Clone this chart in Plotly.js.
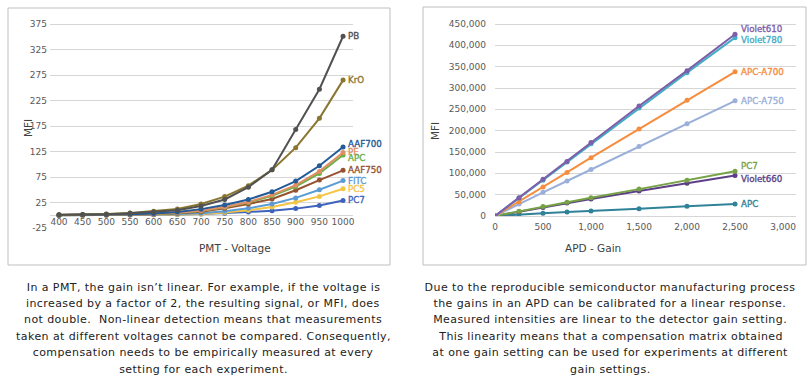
<!DOCTYPE html>
<html>
<head>
<meta charset="utf-8">
<script src="https://cdn.plot.ly/plotly-3.0.1.min.js"></script>
<style>
html,body{margin:0;padding:0;background:#fff;}
#chart{width:812px;height:377px;}
</style>
<style id="capstyle"></style>
</head>
<body>
<div id="chart"></div>
<script>
// ---------- Left chart: PMT ----------
const pmtVoltage = [400, 450, 500, 550, 600, 650, 700, 750, 800, 850, 900, 950, 1000];
const pmtNames = ["PB", "KrO", "AAF700", "PE", "APC", "AAF750", "FITC", "PC5", "PC7"];
const pmtPB     = [1, 1.5, 2, 4, 6.5, 10, 18, 31, 55, 89, 168, 247, 351];
const pmtKrO    = [0.7, 1.3, 2.6, 4.6, 8, 12.4, 22, 36.6, 58, 89, 132.6, 190, 265];
const pmtAAF700 = [0.5, 0.8, 1.3, 2, 3.3, 6.5, 12, 20, 31, 46, 67, 97, 134];
const pmtPE     = [0.3, 0.5, 0.9, 1.5, 2.6, 5, 9, 16, 26, 40, 59, 86, 123];
const pmtAPC    = [0.3, 0.5, 0.8, 1.4, 2.4, 4.6, 8.5, 15.7, 25, 38, 56, 82, 118];
const pmtAAF750 = [0.3, 0.4, 0.7, 1.2, 2, 4, 7, 13.7, 22, 32, 49, 69, 88];
const pmtFITC   = [0.2, 0.3, 0.5, 0.8, 1.3, 2.3, 4, 7.8, 13.7, 22, 34, 50, 68];
const pmtPC5    = [0.1, 0.2, 0.3, 0.5, 0.9, 1.5, 2.6, 5.2, 9.8, 16.3, 25.5, 37, 52];
const pmtPC7    = [0.1, 0.2, 0.3, 0.5, 0.8, 1.4, 2.6, 4, 6.5, 9, 13, 19, 29];
const pmtYTickVals = [-25, 25, 75, 125, 175, 225, 275, 325, 375];
const pmtYTickText = ["-25", "25", "75", "125", "175", "225", "275", "325", "375"];

// ---------- Right chart: APD ----------
const apdGain = [0, 250, 500, 750, 1000, 1500, 2000, 2500];
const apdNames = ["Violet610", "Violet780", "APC-A700", "APC-A750", "PC7", "Violet660", "APC"];
const apdViolet610 = [0, 43000, 86000, 128000, 172000, 258000, 340600, 426000];
const apdViolet780 = [0, 42000, 84000, 126500, 169500, 253000, 336000, 418000];
const apdAPCA700   = [0, 33600, 68000, 102000, 136700, 204000, 271000, 338000];
const apdAPCA750   = [0, 28000, 55500, 82000, 109000, 163000, 216000, 270000];
const apdPC7       = [0, 11000, 22000, 32000, 43000, 63000, 84000, 104700];
const apdViolet660 = [0, 10000, 20000, 30500, 40000, 58600, 77000, 95000];
const apdAPC       = [0, 3900, 6200, 9400, 11700, 17000, 22700, 28000];
const apdXTicks = [0, 500, 1000, 1500, 2000, 2500, 3000];

const leftCaption = [
  "In a PMT, the gain isn\u2019t linear. For example, if the voltage is",
  "increased by a factor of 2, the resulting signal, or MFI, does",
  "not double.  Non-linear detection means that measurements",
  "taken at different voltages cannot be compared. Consequently,",
  "compensation needs to be empirically measured at every",
  "setting for each experiment."
];
const rightCaption = [
  "Due to the reproducible semiconductor manufacturing process",
  "the gains in an APD can be calibrated for a linear response.",
  "Measured intensities are linear to the detector gain setting.",
  "This linearity means that a compensation matrix obtained",
  "at one gain setting can be used for experiments at different",
  "gain settings."
];

// ---------- styling ----------
const W = 812, H = 377;
const px = v => v / W;
const py = v => 1 - v / H;
const FONT = "DejaVu Sans";

const pmtSeries = [pmtPB, pmtKrO, pmtAAF700, pmtPE, pmtAPC, pmtAAF750, pmtFITC, pmtPC5, pmtPC7];
const pmtColors = ["#515151", "#8a7630", "#235a97", "#e08e62", "#6aae46", "#96522f", "#5b9bd5", "#f4c542", "#3e63bd"];
const pmtLabelShift = [0, 0, 3, 1, -3, 0, 0, 0, 0];

const apdSeries = [apdViolet610, apdViolet780, apdAPCA700, apdAPCA750, apdPC7, apdViolet660, apdAPC];
const apdColors = ["#7d5ea8", "#45adc6", "#f68d3e", "#9aafd9", "#76a245", "#5d3f87", "#2f8298"];
const apdLabelShift = [5, -2, 0, 0, 5, -4, 0];

const traces = [];
const annotations = [];
let css = "";

for (let i = pmtSeries.length - 1; i >= 0; i--) {
  traces.push({
    x: pmtVoltage, y: pmtSeries[i], name: pmtNames[i],
    type: "scatter", mode: "lines+markers", xaxis: "x", yaxis: "y",
    line: {color: pmtColors[i], width: 2},
    marker: {color: pmtColors[i], size: 5},
    hoverinfo: "skip"
  });
}
pmtSeries.forEach((s, i) => {
  css += `g.annotation[data-index="${annotations.length}"] text{stroke:${pmtColors[i]};stroke-width:0.35px;}\n`;
  annotations.push({
    xref: "x", yref: "y", x: pmtVoltage[pmtVoltage.length - 1], y: s[s.length - 1],
    text: pmtNames[i], showarrow: false, xanchor: "left", xshift: 3, yshift: pmtLabelShift[i],
    font: {family: FONT, size: 8.7, color: pmtColors[i]}
  });
});

for (let i = apdSeries.length - 1; i >= 0; i--) {
  traces.push({
    x: apdGain, y: apdSeries[i], name: apdNames[i],
    type: "scatter", mode: "lines+markers", xaxis: "x2", yaxis: "y2",
    line: {color: apdColors[i], width: 2},
    marker: {color: apdColors[i], size: 5},
    hoverinfo: "skip"
  });
}
apdSeries.forEach((s, i) => {
  css += `g.annotation[data-index="${annotations.length}"] text{stroke:${apdColors[i]};stroke-width:0.35px;}\n`;
  annotations.push({
    xref: "x2", yref: "y2", x: apdGain[apdGain.length - 1], y: s[s.length - 1],
    text: apdNames[i], showarrow: false, xanchor: "left", xshift: 4, yshift: apdLabelShift[i],
    font: {family: FONT, size: 8.7, color: apdColors[i]}
  });
});

// axis titles
annotations.push({xref: "paper", yref: "paper", x: px(197), y: py(248), text: "PMT - Voltage",
  showarrow: false, font: {family: FONT, size: 10.5, color: "#404040"}});
annotations.push({xref: "paper", yref: "paper", x: px(20), y: py(128), text: "MFI", textangle: -90,
  showarrow: false, font: {family: FONT, size: 10.5, color: "#404040"}});
annotations.push({xref: "paper", yref: "paper", x: px(623), y: py(248), text: "APD - Gain",
  showarrow: false, font: {family: FONT, size: 10.5, color: "#404040"}});
annotations.push({xref: "paper", yref: "paper", x: px(435), y: py(120), text: "MFI", textangle: -90,
  showarrow: false, font: {family: FONT, size: 10.5, color: "#404040"}});

// captions
const capStart = annotations.length;
leftCaption.forEach((t, i) => {
  annotations.push({xref: "paper", yref: "paper", x: px(203), y: py(287 + i * 16.4), text: t,
    showarrow: false, xanchor: "center", yanchor: "middle",
    font: {family: FONT, size: 11, color: "#222222"}});
});
rightCaption.forEach((t, i) => {
  annotations.push({xref: "paper", yref: "paper", x: px(610), y: py(287 + i * 16.4), text: t,
    showarrow: false, xanchor: "center", yanchor: "middle",
    font: {family: FONT, size: 11, color: "#222222"}});
});
const capEnd = annotations.length;
for (let k = capStart; k < capEnd; k++) {
  css += `g.annotation[data-index="${k}"] text{letter-spacing:0.42px;}\n`;
}
document.getElementById("capstyle").textContent = css;

const tickFont = {family: FONT, size: 9, color: "#595959"};

const layout = {
  width: W, height: H,
  margin: {l: 0, r: 0, t: 0, b: 0},
  paper_bgcolor: "#ffffff", plot_bgcolor: "#ffffff",
  showlegend: false,
  xaxis: {
    domain: [px(50), px(353)], range: [381, 1021],
    tickvals: pmtVoltage, ticktext: pmtVoltage.map(String),
    showgrid: false, zeroline: false, showline: false, ticks: "",
    tickfont: tickFont, anchor: "y", ticklabelstandoff: -13
  },
  yaxis: {
    domain: [py(228), py(16)], range: [-25, 390.7],
    tickvals: pmtYTickVals, ticktext: pmtYTickText,
    showgrid: true, gridcolor: "#d6d6d6", gridwidth: 1,
    zeroline: true, zerolinecolor: "#d6d6d6", zerolinewidth: 1,
    showline: false, ticks: "", tickfont: tickFont, anchor: "x", ticklabelstandoff: 2
  },
  xaxis2: {
    domain: [px(495), px(796)], range: [0, 3135],
    tickvals: apdXTicks, tickformat: ",d",
    showgrid: false, zeroline: false, showline: false, ticks: "",
    tickfont: tickFont, anchor: "y2", ticklabelstandoff: 4
  },
  yaxis2: {
    domain: [py(216), py(22)], range: [0, 454688],
    dtick: 50000, tickformat: ",d",
    showgrid: true, gridcolor: "#d6d6d6", gridwidth: 1,
    zeroline: true, zerolinecolor: "#d6d6d6", zerolinewidth: 1,
    showline: false, ticks: "", tickfont: tickFont, anchor: "x2", ticklabelstandoff: 8
  },
  shapes: [
    {type: "rect", xref: "paper", yref: "paper", x0: px(8), x1: px(390), y0: py(265), y1: py(8),
     line: {color: "#bfbfbf", width: 1}, fillcolor: "rgba(0,0,0,0)", layer: "below"},
    {type: "rect", xref: "paper", yref: "paper", x0: px(423), x1: px(806), y0: py(265), y1: py(7),
     line: {color: "#bfbfbf", width: 1}, fillcolor: "rgba(0,0,0,0)", layer: "below"}
  ],
  annotations: annotations
};

Plotly.newPlot("chart", traces, layout, {staticPlot: true, displayModeBar: false});
</script>
</body>
</html>
